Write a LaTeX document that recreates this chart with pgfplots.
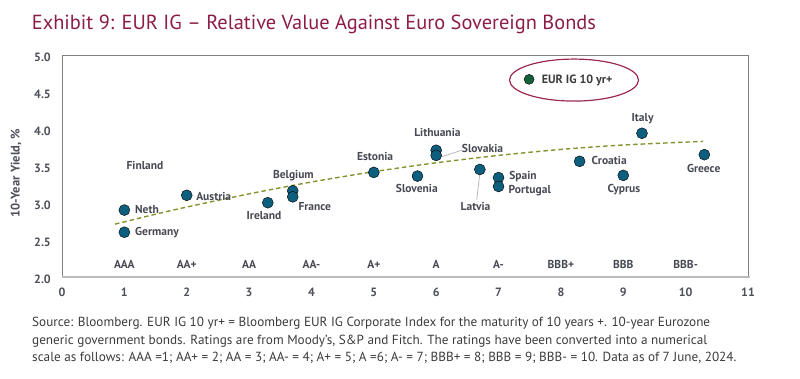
\documentclass[border=0pt]{standalone}
\usepackage{pgfplots}
\pgfplotsset{compat=1.18}
\usepackage{fontspec}
\setmainfont{PT Sans}
\definecolor{titlec}{HTML}{8C1D47}
\definecolor{tickc}{HTML}{4D4F5A}
\definecolor{labc}{HTML}{474954}
\definecolor{dotc}{HTML}{0E5E7D}
\definecolor{eurc}{HTML}{14603C}
\definecolor{ellc}{HTML}{9C2A50}
\definecolor{trendc}{HTML}{86922E}
\definecolor{boxc}{HTML}{808080}
\definecolor{bottomc}{HTML}{BBBBBB}
\definecolor{connc}{HTML}{B8B8B8}
\definecolor{footc}{HTML}{3B3B3B}
\begin{document}
\begin{tikzpicture}[x=1pt,y=1pt,
  lab/.style={font=\fontsize{11.5}{13}\selectfont\bfseries, text=labc, inner sep=0pt}]
\path[use as bounding box] (0,0) rectangle (800,378);
\begin{axis}[
  at={(62pt,100.7pt)}, anchor=south west,
  width=686pt, height=221.6pt, scale only axis,
  xmin=0, xmax=11, ymin=2, ymax=5,
  xtick={0,1,2,3,4,5,6,7,8,9,10,11},
  ytick={2,2.5,3,3.5,4,4.5,5},
  axis line style={draw=none},
  tick style={draw=none},
  major tick length=0pt,
  /pgf/number format/assume math mode=true,
  ticklabel style={font=\fontsize{12}{14}\selectfont\bfseries, text=tickc},
  xticklabel style={anchor=center, yshift=-15pt},
  yticklabel style={anchor=east, inner sep=0pt, xshift=-11pt, yshift=-2pt,
    /pgf/number format/.cd, fixed, fixed zerofill, precision=1},
  clip=false,
]
\draw[boxc, line width=1pt] (rel axis cs:0,0) -- (rel axis cs:0,1) -- (rel axis cs:1,1) -- (rel axis cs:1,0);
\draw[bottomc, line width=2pt] (rel axis cs:0,0) -- (rel axis cs:1.003,0);

% trend line
\addplot[trendc, line width=1.4pt, dash pattern=on 4.5pt off 3pt, smooth] coordinates {
 (0.85,2.72) (1.5,2.854) (2,2.951) (3,3.130) (4,3.290) (5,3.430) (6,3.550) (7,3.650) (8,3.731) (9,3.791) (10.28,3.84)};

% connectors
\draw[connc, line width=0.8pt] (axis cs:6.08,3.63) -- (axis cs:6.41,3.72);
\draw[connc, line width=0.8pt] (axis cs:6.70,3.41) -- (axis cs:6.65,3.05);

% sovereigns
\addplot[only marks, mark=*, mark size=5.5pt, mark options={draw=none, fill=dotc}] coordinates {
 (1,2.91) (1,2.61) (2,3.11) (3.3,3.01) (3.7,3.17) (3.7,3.09) (5,3.42)
 (6,3.72) (6,3.65) (5.7,3.37) (6.7,3.46) (7,3.35) (7,3.23)
 (8.3,3.57) (9,3.38) (9.3,3.95) (10.3,3.66)};

% EUR IG
\addplot[only marks, mark=*, mark size=5pt, mark options={draw=none, fill=eurc}] coordinates {(7.49,4.68)};
\draw[ellc, line width=1.2pt] (axis cs:8.21,4.67) ellipse [x radius=64.5pt, y radius=21pt];
\node[lab, anchor=west, font=\fontsize{12}{14}\selectfont\bfseries, text=footc] at (axis cs:7.69,4.67) {EUR IG 10 yr+};

% country labels
\node[lab] at (axis cs:1.33,3.52) {Finland};
\node[lab, anchor=west] at (axis cs:1.17,2.92) {Neth};
\node[lab, anchor=west] at (axis cs:1.17,2.60) {Germany};
\node[lab, anchor=west] at (axis cs:2.15,3.10) {Austria};
\node[lab] at (axis cs:3.24,2.83) {Ireland};
\node[lab] at (axis cs:3.71,3.37) {Belgium};
\node[lab, anchor=west] at (axis cs:3.79,2.96) {France};
\node[lab] at (axis cs:5.02,3.63) {Estonia};
\node[lab] at (axis cs:6.02,3.96) {Lithuania};
\node[lab, anchor=west] at (axis cs:6.41,3.74) {Slovakia};
\node[lab] at (axis cs:5.69,3.20) {Slovenia};
\node[lab] at (axis cs:6.63,2.96) {Latvia};
\node[lab, anchor=west] at (axis cs:7.17,3.37) {Spain};
\node[lab, anchor=west] at (axis cs:7.16,3.18) {Portugal};
\node[lab, anchor=west] at (axis cs:8.49,3.58) {Croatia};
\node[lab] at (axis cs:9.01,3.19) {Cyprus};
\node[lab] at (axis cs:9.31,4.15) {Italy};
\node[lab] at (axis cs:10.29,3.48) {Greece};

% rating labels
\node[lab] at (axis cs:1,2.18) {AAA};
\node[lab] at (axis cs:2,2.18) {AA+};
\node[lab] at (axis cs:3,2.18) {AA};
\node[lab] at (axis cs:4,2.18) {AA-};
\node[lab] at (axis cs:5,2.18) {A+};
\node[lab] at (axis cs:6,2.18) {A};
\node[lab] at (axis cs:7,2.18) {A-};
\node[lab] at (axis cs:8,2.18) {BBB+};
\node[lab] at (axis cs:9,2.18) {BBB};
\node[lab] at (axis cs:10,2.18) {BBB-};
\end{axis}

% y label
\node[rotate=90, font=\fontsize{12.5}{14}\selectfont\bfseries, text=tickc] at (16,205) {10-Year Yield, \%};

% title
\node[anchor=base west, inner sep=0pt, font=\fontsize{20.4}{24}\selectfont, text=titlec] at (31.7,348.7)
 {Exhibit 9: EUR IG – Relative Value Against Euro Sovereign Bonds};

% footer
\begin{scope}[every node/.style={anchor=base west, inner sep=0pt, font=\fontsize{13.2}{15}\selectfont, text=footc}]
\node at (32,51.3) {Source: Bloomberg. EUR IG 10 yr+ = Bloomberg EUR IG Corporate Index for the maturity of 10 years +. 10-year Eurozone};
\node at (32,34) {generic government bonds. Ratings are from Moody’s, S\&P and Fitch. The ratings have been converted into a numerical};
\node at (32,16.7) {scale as follows: AAA =1; AA+ = 2; AA = 3; AA- = 4; A+ = 5; A =6; A- = 7; BBB+ = 8; BBB = 9; BBB- = 10. Data as of 7 June, 2024.};
\end{scope}
\end{tikzpicture}
\end{document}
